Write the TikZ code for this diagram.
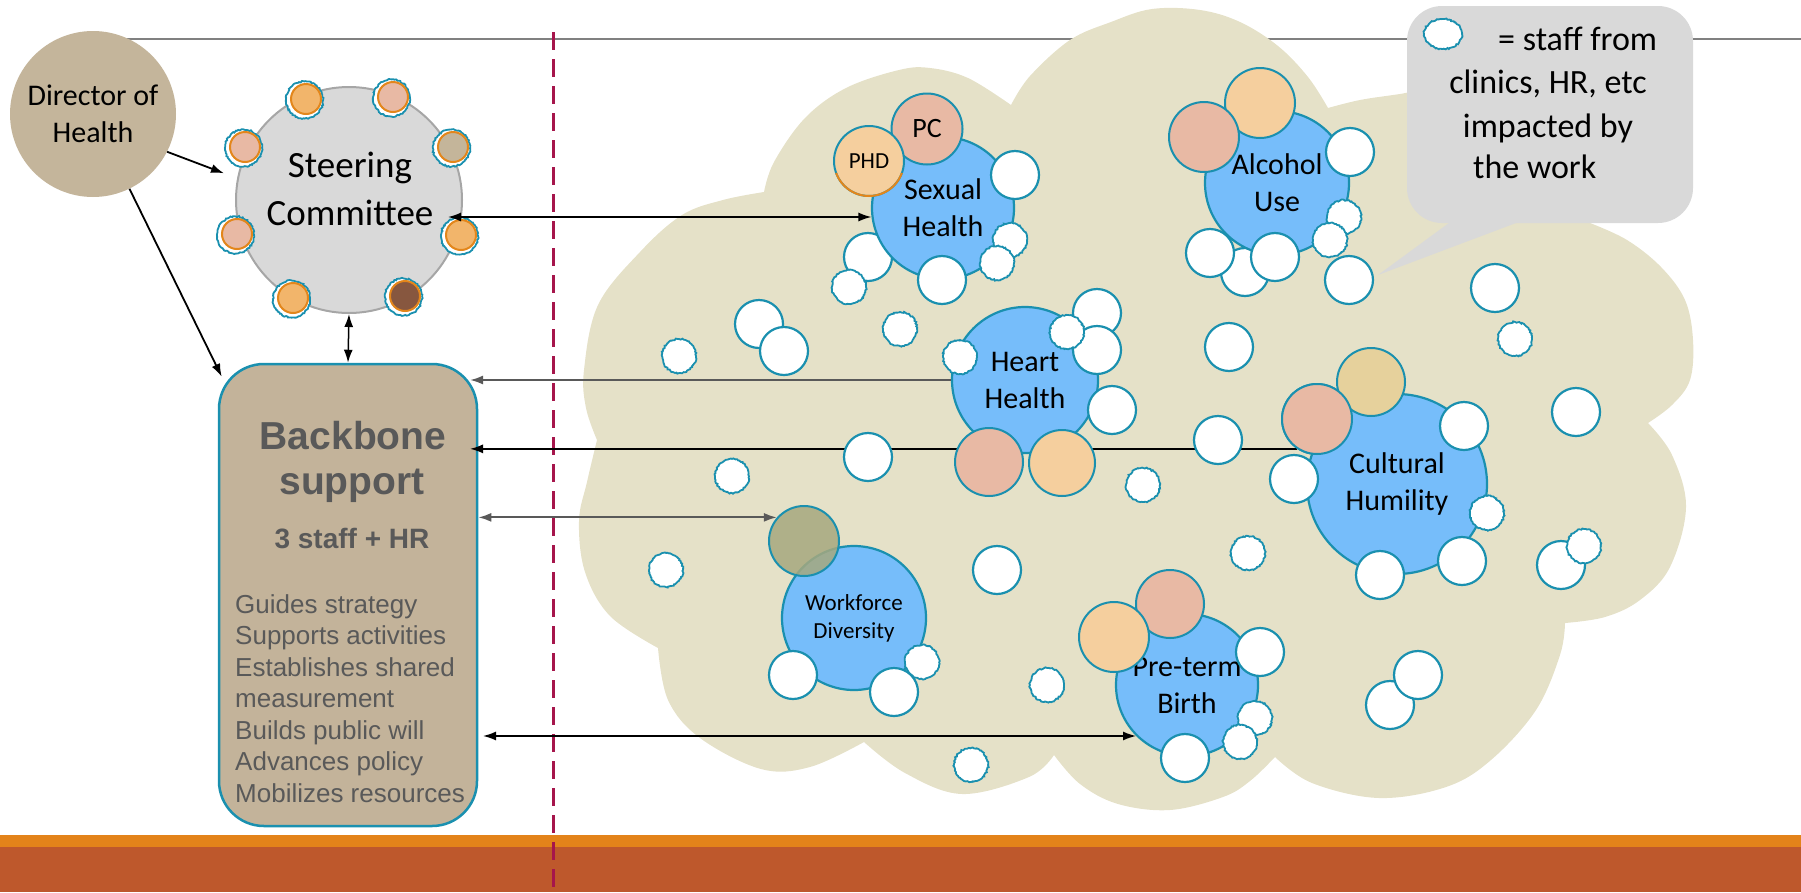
\documentclass[tikz,border=0pt]{standalone}
\usepackage{fontspec}
\setmainfont{Carlito}
\newfontfamily\arialf{Liberation Sans}
\usetikzlibrary{arrows.meta,decorations.pathmorphing,calc}
\definecolor{tanc}{HTML}{C4B59B}
\definecolor{tanb}{HTML}{C3B39A}
\definecolor{lgray}{HTML}{D9D9D9}
\definecolor{sgray}{HTML}{A6A6A6}
\definecolor{cloudc}{HTML}{E5E1C8}
\definecolor{bluec}{HTML}{76BDFA}
\definecolor{tealc}{HTML}{1A90AF}
\definecolor{pinkc}{HTML}{E8B9A4}
\definecolor{peachc}{HTML}{F5CF9E}
\definecolor{tanr}{HTML}{E6D19C}
\definecolor{greenc}{HTML}{A6A87E}
\definecolor{orgf}{HTML}{F2B56B}
\definecolor{orgring}{HTML}{E3861B}
\definecolor{tanm}{HTML}{C4B59A}
\definecolor{brownc}{HTML}{87573F}
\definecolor{orgbar}{HTML}{E3831A}
\definecolor{redbar}{HTML}{BE582C}
\definecolor{crim}{HTML}{A6154B}
\definecolor{linegray}{HTML}{808080}
\definecolor{dgray}{HTML}{595959}
\tikzset{
  txt/.style={inner sep=0pt},
  bub/.style={fill=white, draw=tealc, line width=2.2pt},
  fuz/.style={fill=white, draw=tealc, line width=1.8pt, decorate,
    decoration={random steps, segment length=1.5pt, amplitude=0.7pt}},
  topic/.style={circle, fill=bluec, draw=tealc, line width=2.2pt, inner sep=0pt,
    align=center, font=\fontsize{30}{37}\selectfont},
  role/.style={circle, draw=tealc, line width=2pt, inner sep=0pt},
  blk/.style={line width=1.5pt, draw=black},
  gry/.style={line width=2pt, draw=dgray},
}
\begin{document}
\pgfmathsetseed{12}
\begin{tikzpicture}[x=1pt, y=-1pt, >={Latex[length=13pt,width=9pt]}]
\useasboundingbox (0,0) rectangle (1801,892);

% top thin line
\draw[linegray, line width=1.3pt] (100,39) -- (1801,39);

% cloud
\fill[cloudc]
  plot[smooth, tension=0.6] coordinates {(597,440) (586,408) (584,370) (598,305) (640,252) (682,215) (723,200) (764,192)}
  -- plot[smooth, tension=0.6] coordinates {(764,192) (774,162) (805,118) (846,88) (899,70) (930,68) (968,78) (1011,105)}
  -- plot[smooth, tension=0.6] coordinates {(1011,105) (1030,76) (1070,40) (1111,22) (1152,9) (1200,10) (1240,22) (1278,46) (1308,77) (1328,108)}
  -- plot[smooth, tension=0.6] coordinates {(1328,108) (1360,100) (1400,94) (1460,85) (1540,110) (1580,170) (1590,223)}
  -- plot[smooth, tension=0.6] coordinates {(1590,223) (1627,240) (1661,267) (1685,300) (1693,340) (1690,380) (1672,405) (1648,423)}
  -- plot[smooth, tension=0.6] coordinates {(1648,423) (1672,455) (1686,507) (1670,567) (1640,600) (1605,617) (1565,623)}
  -- plot[smooth, tension=0.6] coordinates {(1565,623) (1560,655) (1536,710) (1491,760) (1446,787) (1379,798) (1312,783) (1275,757)}
  -- plot[smooth, tension=0.6] coordinates {(1275,757) (1250,781) (1223,797) (1170,810) (1118,804) (1080,784) (1054,755)}
  -- plot[smooth, tension=0.6] coordinates {(1054,755) (1029,777) (962,794) (905,773) (864,742)}
  -- plot[smooth, tension=0.6] coordinates {(864,742) (810,767) (761,769) (700,738) (668,700) (658,648)}
  -- plot[smooth, tension=0.6] coordinates {(658,648) (610,616) (585,572) (579,521) (587,482) (597,440)}
  -- cycle;

% callout
\node[fill=lgray, rounded corners=35pt, minimum width=286pt, minimum height=217pt] (call) at (1550,114.5) {};
\fill[lgray] (1453,220) -- (1378,275) -- (1524,220) -- cycle;
\draw[fuz] (1443,34) ellipse [x radius=19, y radius=15];
\begin{scope}[every node/.style={txt, font=\fontsize{34}{43}\selectfont}]
  \node[anchor=base west] (ct1) at (1498,50) {= staff from};
  \node[anchor=base] (ct2) at (1548,93) {clinics, HR, etc};
  \node[anchor=base] (ct3) at (1548,137) {impacted by};
  \node[anchor=base west] (ct4) at (1473,178) {the work};
\end{scope}

% bottom bars and dashed divider
\fill[orgbar] (0,835) rectangle (1801,847);
\fill[redbar] (0,847) rectangle (1801,892);
\draw[crim, line width=3pt, dash pattern=on 18pt off 9pt] (553,32) -- (553,892);

% director
\node[circle, fill=tanc, minimum size=166pt, inner sep=0pt, align=center,
  font=\fontsize{30}{37}\selectfont] (dir) at (93,114) {Director of\\Health};

% steering committee
\node[circle, fill=lgray, draw=sgray, line width=2pt, minimum size=226pt] (steer) at (349,200) {};
\node[txt, align=center, font=\fontsize{37}{48}\selectfont] (steertxt) at (350,189) {Steering\\Committee};
\foreach \x/\y/\c in {306/99/orgf, 393/97/pinkc, 453/147/tanm, 245/147/pinkc,
                      237/234/pinkc, 461/235/orgf, 293/298/orgf, 405/296/brownc} {
  \draw[fuz] ({\x-1.5},{\y+1}) circle (18.5);
  \draw[fill=\c, draw=orgring, line width=2pt] (\x,\y) circle (15);
}

% backbone
\node[draw=tealc, fill=tanb, line width=2.5pt, rounded corners=45pt,
  minimum width=258pt, minimum height=462pt] (bb) at (348,595) {};
\node[txt, anchor=base, text=dgray, font=\arialf\bfseries\fontsize{39}{45}\selectfont] (bbt1) at (353,449) {Backbone};
\node[txt, anchor=base, text=dgray, font=\arialf\bfseries\fontsize{39}{45}\selectfont] (bbt2) at (352,494) {support};
\node[txt, anchor=base, text=dgray, font=\arialf\bfseries\fontsize{28}{32}\selectfont] (bbt3) at (352,548) {3 staff + HR};
\foreach \t [count=\i] in {Guides strategy, Supports activities, Establishes shared,
    measurement, Builds public will, Advances policy, Mobilizes resources} {
  \node[txt, anchor=base west, text=dgray, font=\arialf\fontsize{26}{31}\selectfont]
    (bbl\i) at (235,{613+31.5*(\i-1)}) {\t};
}

% connectors drawn beneath the circles
\coordinate (stR) at (448,217);
\coordinate (bbR) at (470,0);
\coordinate (bbR5) at (483,0);
\node[role, minimum size=70pt] (cupkpos) at (1317,419) {};
\draw[blk, ->] (cupkpos.236) -- (cupkpos.236 -| bbR);

% topic circles and companions placed behind
\draw[bub] (868,257) circle (24);
\draw[bub] (1245,272) circle (24);
\node[topic, minimum size=142pt] (sex) at (943,208) {Sexual\\Health};
\node[topic, minimum size=144pt] (alc) at (1277,183) {Alcohol\\Use};
\node[topic, minimum size=146pt] (heart) at (1025,380) {Heart\\Health};
\node[topic, minimum size=180pt] (cult) at (1397,484) {Cultural\\Humility};
\node[topic, minimum size=144pt, font=\fontsize{23}{28}\selectfont] (work) at (854,618) {Workforce\\Diversity};
\node[topic, minimum size=142pt] (pre) at (1187,685) {Pre-term\\Birth};
\node[circle, fill=greenc, fill opacity=0.85, draw=tealc, line width=2pt,
  minimum size=70pt, inner sep=0pt] (wkg) at (804,541) {};

% role circles
\node[role, fill=pinkc, minimum size=71pt, font=\fontsize{28}{30}\selectfont] (pc) at (927,129) {PC};
\node[role, fill=peachc, minimum size=70pt, font=\fontsize{23}{26}\selectfont] (phd) at (869,161) {PHD};
\draw[orgring, line width=2pt] ([shift={(20:35)}]869,161) arc (20:160:35);
\node[role, fill=peachc, minimum size=70pt] (alc2) at (1260,103) {};
\node[role, fill=pinkc, minimum size=70pt] (alc1) at (1204,137) {};
\node[role, fill=pinkc, minimum size=68pt] (hpk) at (989,462) {};
\node[role, fill=peachc, minimum size=66pt] (hpe) at (1062,463) {};
\node[role, fill=tanr, minimum size=68pt] (ctan) at (1371,382) {};
\node[role, fill=pinkc, minimum size=70pt] (cupk) at (1317,419) {};
\node[role, fill=pinkc, minimum size=68pt] (ppk) at (1170,604) {};
\node[role, fill=peachc, minimum size=70pt] (ppe) at (1114,637) {};

% connectors
\draw[blk, <->] (stR) -- (stR -| sex.187);
\draw[gry, ->] (heart.west) -- (heart.west -| bbR);
\draw[gry, <->] (wkg.139 -| bb.east) -- (wkg.139);
\draw[blk, <->] (pre.225 -| bbR5) -- (pre.225);
\draw[blk, <->] (steer.south) -- (bb.north);
\draw[blk, ->, line width=1.8pt, shorten >=14pt] (dir.-27) -- (steer.169);
\draw[blk, ->, line width=1.8pt] (dir.-64) -- ([shift={(4,14)}]bb.north west);

% staff bubbles
\foreach \p in {(1015,175), (942,280), (1097,313), (1097,350), (1112,410), (1229,347),
  (1218,440), (868,457), (759,324), (784,351), (1210,253), (1275,257), (1350,152),
  (1349,280), (1495,288), (1464,426), (1576,412), (1294,479), (1380,575), (1462,561),
  (1561,565), (1390,705), (1418,675), (1260,652), (1185,758), (997,570), (793,675),
  (894,692)}
  \draw[bub] \p circle (24);
\foreach \p in {(1010,240), (997,263), (849,287), (900,329), (1067,332), (960,357),
  (1143,485), (1344,217), (1330,240), (1515,339), (1487,513), (1248,553), (1584,546),
  (1255,718), (1240,742), (1047,685), (971,765), (922,662), (666,570), (732,476),
  (679,356)}
  \draw[fuz] \p circle (17);
\end{tikzpicture}
\end{document}
